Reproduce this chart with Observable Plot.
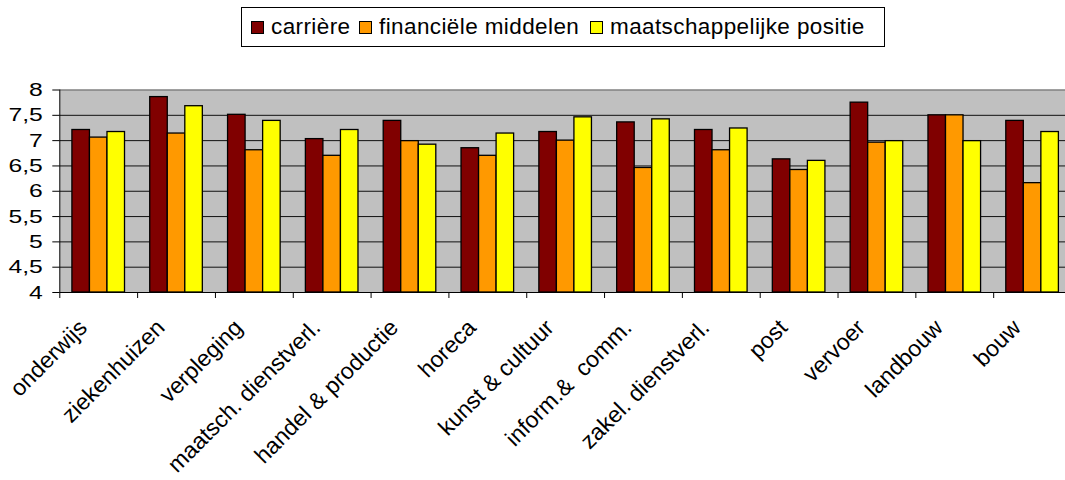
<!DOCTYPE html>
<html><head><meta charset="utf-8">
<script src="https://cdn.jsdelivr.net/npm/d3@7"></script>
<script src="https://cdn.jsdelivr.net/npm/@observablehq/plot@0.6"></script>
<style>
body{margin:0;background:#fff;font-family:"Liberation Sans",Arial,sans-serif;}
#wrap{position:relative;width:1065px;height:480px;overflow:hidden;background:#fff}
#legend{position:absolute;left:241px;top:7px;width:642px;height:38px;border:1px solid #000;background:#fff}
.item{position:absolute;top:0;height:38px;display:flex;align-items:center;font-size:22.5px;letter-spacing:0.4px;color:#000;white-space:nowrap}
.sw{width:11px;height:11px;border:1px solid #000;margin-right:7px;flex:none}
#chart{position:absolute;left:0;top:50px}
svg text{white-space:pre}
</style>
</head><body>
<div id="wrap"><div id="legend"></div><div id="chart"></div></div>
<script>
const categories = ["onderwijs","ziekenhuizen","verpleging","maatsch. dienstverl.","handel & productie","horeca","kunst & cultuur","inform.&  comm.","zakel. dienstverl.","post","vervoer","landbouw","bouw"];
const series = ["carrière","financiële middelen","maatschappelijke positie"];
const carriere       = [7.21,7.86,7.51,7.03,7.39,6.85,7.17,7.36,7.21,6.63,7.75,7.50,7.39];
const financieel     = [7.06,7.14,6.81,6.70,6.99,6.70,7.00,6.46,6.81,6.42,6.96,7.50,6.16];
const maatschappelijk= [7.17,7.68,7.39,7.21,6.92,7.14,7.46,7.42,7.24,6.60,6.99,6.99,7.17];
const colors = ["#800000","#FF9900","#FFFF00"];
const yTicks = [4,4.5,5,5.5,6,6.5,7,7.5,8];

const values = [carriere, financieel, maatschappelijk];
const yDomain = [4, 8];
const xRange = [59.3, 1071];
const bw = (xRange[1] - xRange[0]) / categories.length;
const barW = bw * 0.2253;
const pad = (bw - 3 * barW) / 2;

// legend
const legendPos = [9, 117, 348];
const legend = document.getElementById("legend");
series.forEach((s, i) => {
  const it = document.createElement("div");
  it.className = "item";
  it.style.left = legendPos[i] + "px";
  const sw = document.createElement("span");
  sw.className = "sw";
  sw.style.background = colors[i];
  it.appendChild(sw);
  it.appendChild(document.createTextNode(s));
  legend.appendChild(it);
});

const marks = [
  Plot.frame({fill: "#c0c0c0", stroke: null}),
  Plot.ruleY(yTicks.filter(d => d > yDomain[0] && d < yDomain[1]), {stroke: "#111", strokeWidth: 1}),
  Plot.ruleY([yDomain[1]], {stroke: "#808080", strokeWidth: 1.5})
];
values.forEach((arr, i) => {
  const data = categories.map((c, j) => ({category: c, value: arr[j], series: series[i]}));
  marks.push(Plot.barY(data, {
    x: "category", y1: yDomain[0], y2: "value",
    fill: colors[i], stroke: "#000", strokeWidth: 1.3,
    insetLeft: pad + i * barW, insetRight: bw - pad - (i + 1) * barW
  }));
});
marks.push(
  Plot.ruleY([yDomain[0]], {stroke: "#000", strokeWidth: 1}),
  Plot.ruleX([categories[0]], {x: d => d, dx: -bw / 2, y1: yDomain[0], y2: yDomain[1], stroke: "#000", strokeWidth: 1}),
  Plot.ruleX(categories, {x: d => d, dx: -bw / 2, y1: yDomain[0], y2: yDomain[0], insetBottom: -6, stroke: "#000", strokeWidth: 1}),
  Plot.axisY({ticks: yTicks, tickSize: 7, tickPadding: 10, fontSize: 19, tickFormat: d => String(d).replace(".", ","), label: null, stroke: "#000", color: "#000"}),
  Plot.text(categories, {x: d => d, frameAnchor: "bottom", rotate: -45, textAnchor: "end", lineAnchor: "top", fontSize: 23, dx: -22, dy: 25, fill: "#000"})
);

const chart = Plot.plot({
  width: 1065,
  height: 430,
  marginLeft: 59.3,
  marginRight: 0,
  marginTop: 39.5,
  marginBottom: 188,
  x: {domain: categories, range: xRange, padding: 0, round: false, axis: null},
  y: {domain: yDomain, axis: null},
  style: {fontFamily: "'Liberation Sans', Arial, sans-serif", background: "transparent", color: "#000", overflow: "visible"},
  marks
});
document.getElementById("chart").appendChild(chart);
chart.querySelectorAll('g[aria-label="y-axis tick label"] text').forEach(t => {
  const tr = t.getAttribute("transform") || "";
  t.setAttribute("transform", tr + " scale(1.3,1)");
});
</script>
</body></html>
